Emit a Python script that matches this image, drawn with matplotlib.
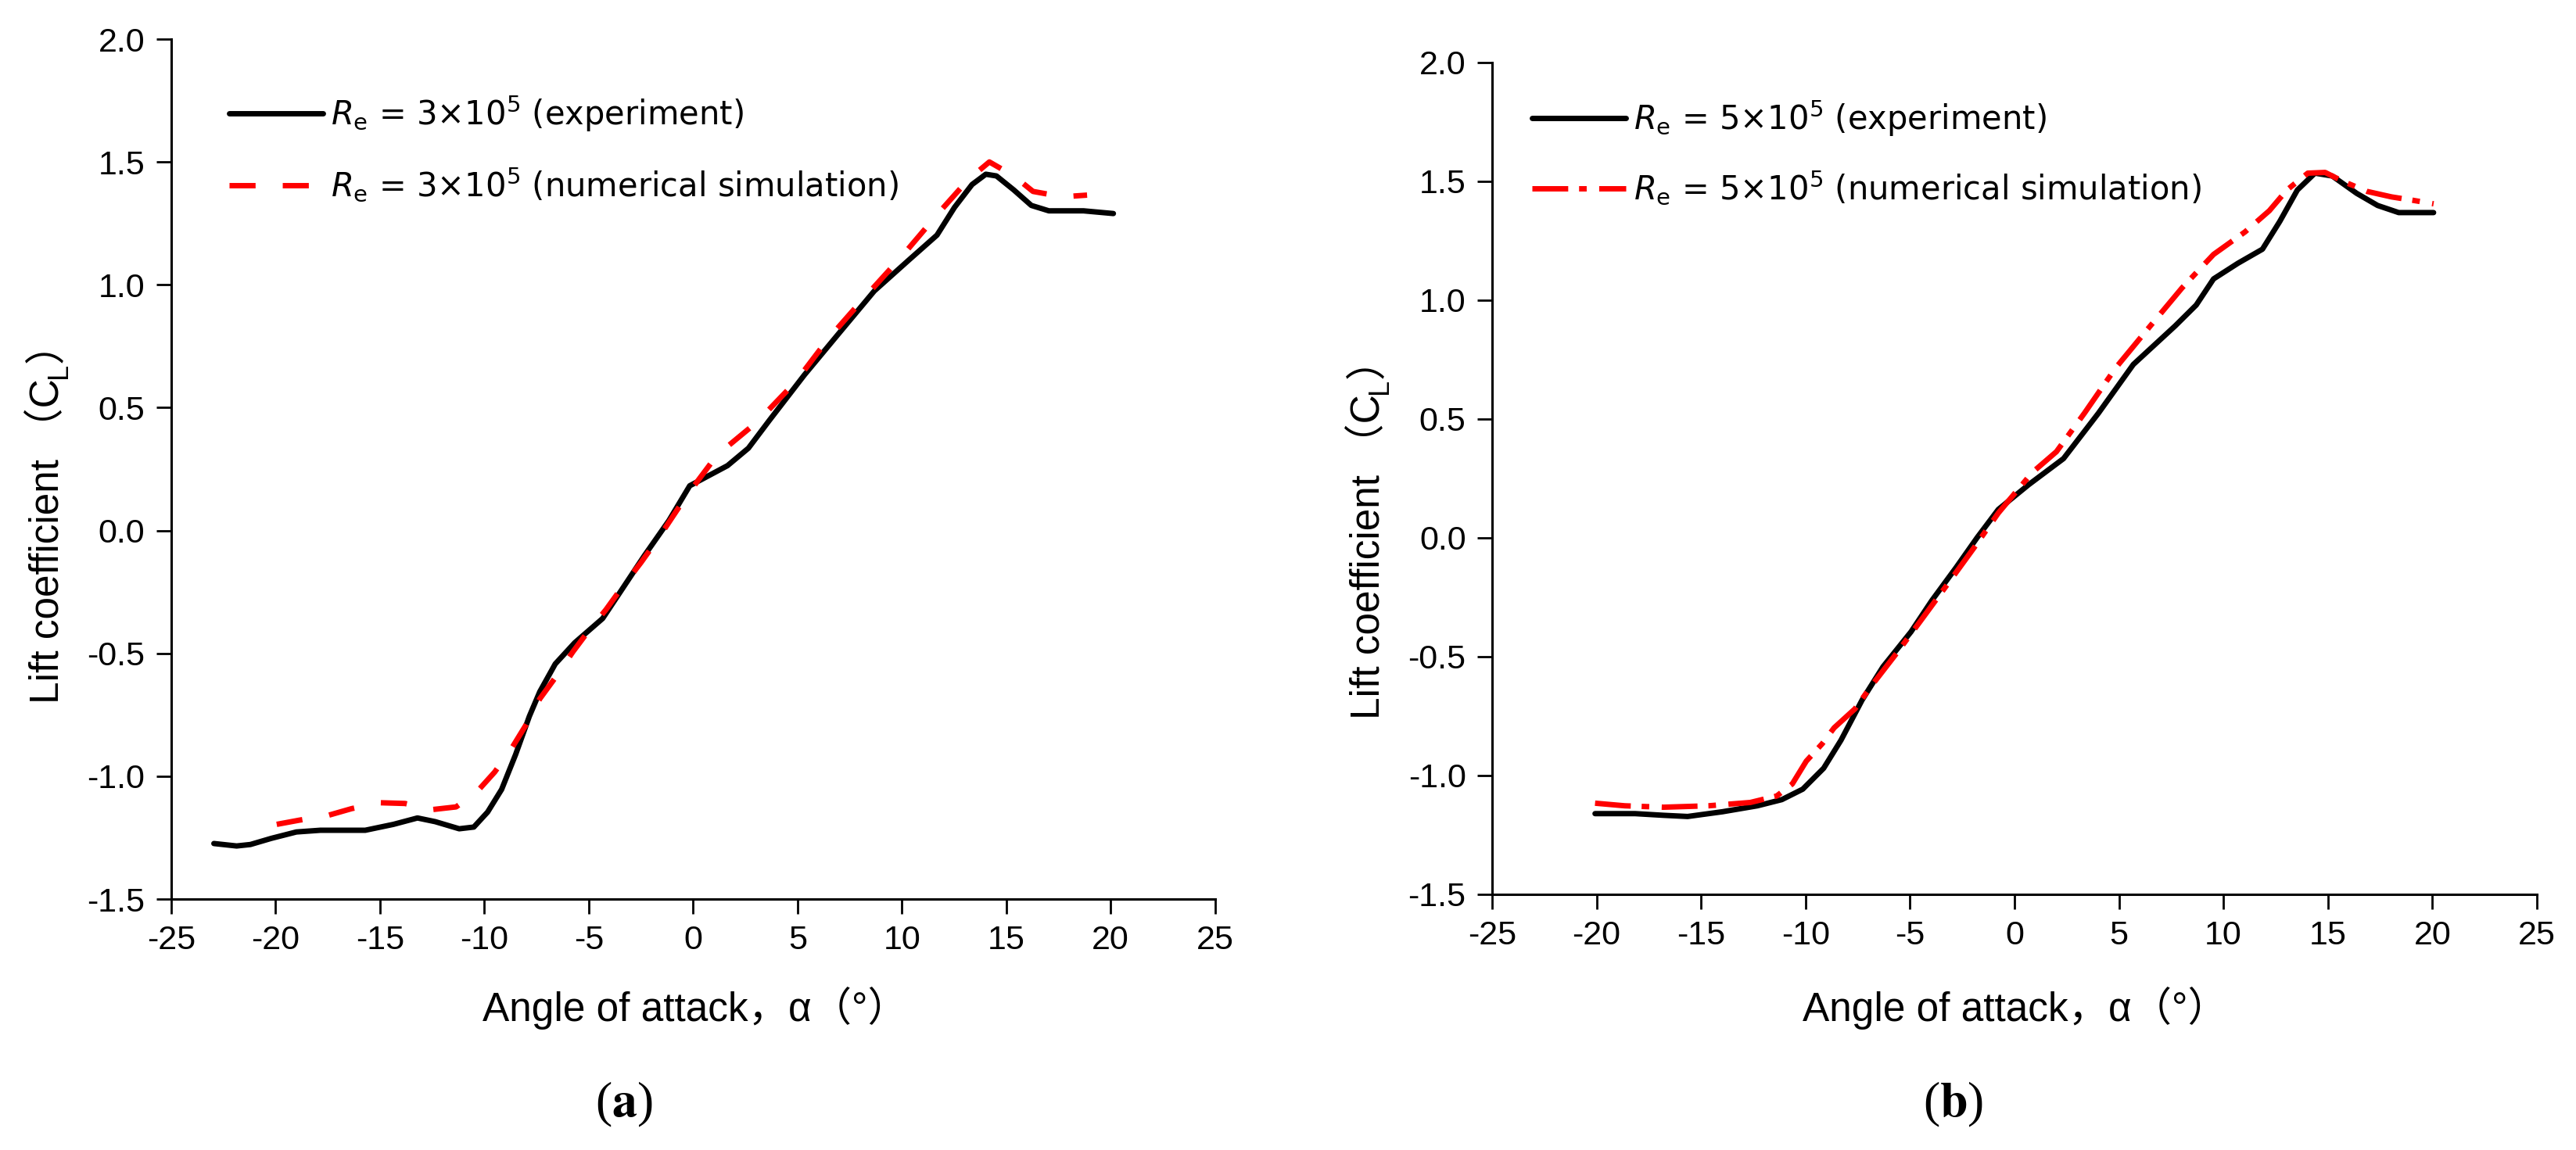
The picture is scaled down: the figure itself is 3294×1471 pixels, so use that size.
import matplotlib
matplotlib.use("Agg")
from matplotlib import pyplot as plt

# ---- data ----
aoa_exp_a = [-22.95, -21.86, -21.2, -20.2, -19.0, -17.85, -15.7, -14.35, -13.2, -12.35,
             -11.2, -10.5, -9.84, -9.17, -8.5, -7.84, -7.34, -6.6, -5.67, -4.33,
             -3.33, -2.33, -1.16, -0.16, 1.65, 2.65, 3.66, 5.33, 7.0, 8.68,
             10.35, 11.68, 12.52, 13.36, 14.02, 14.53, 15.36, 16.2, 17.04, 18.7, 20.13]
cl_exp_a = [-1.274, -1.284, -1.278, -1.253, -1.227, -1.220, -1.220, -1.196, -1.170, -1.185,
            -1.214, -1.207, -1.146, -1.054, -0.912, -0.756, -0.656, -0.543, -0.457, -0.358,
            -0.230, -0.102, 0.040, 0.182, 0.264, 0.335, 0.449, 0.633, 0.804, 0.975,
            1.102, 1.202, 1.315, 1.408, 1.450, 1.443, 1.386, 1.323, 1.301, 1.301, 1.290]

aoa_sim_a = [-19.94, -18.86, -17.5, -16.35, -15.0, -13.8, -12.5, -11.35, -10.4, -9.5,
             -8.67, -8.0, -7.34, -6.6, -5.75, -5.0, -4.17, -3.33, -2.5, -1.66,
             -0.33, 1.15, 3.07, 4.91, 6.5, 8.26, 10.0, 11.85, 13.19, 14.19,
             15.36, 16.28, 17.7, 18.87]
cl_sim_a = [-1.196, -1.179, -1.160, -1.132, -1.108, -1.111, -1.136, -1.125, -1.068, -0.983,
            -0.884, -0.791, -0.685, -0.599, -0.493, -0.408, -0.322, -0.223, -0.131, -0.031,
            0.139, 0.307, 0.442, 0.605, 0.783, 0.953, 1.116, 1.301, 1.429, 1.500,
            1.443, 1.380, 1.358, 1.365]

aoa_exp_b = [-20.07, -18.15, -16.8, -15.64, -13.97, -12.3, -11.13, -10.13, -9.13, -8.3,
             -7.29, -6.29, -4.95, -3.95, -2.78, -1.78, -0.77, 0.68, 2.35, 4.02,
             5.69, 7.69, 8.7, 9.53, 10.7, 11.87, 12.7, 13.54, 14.38, 15.21,
             16.38, 17.38, 18.39, 20.06]
cl_exp_b = [-1.162, -1.162, -1.169, -1.174, -1.154, -1.129, -1.103, -1.059, -0.971, -0.853,
            -0.684, -0.544, -0.397, -0.265, -0.125, 0.0, 0.118, 0.222, 0.332, 0.523,
            0.728, 0.890, 0.978, 1.088, 1.154, 1.213, 1.330, 1.462, 1.533, 1.521,
            1.448, 1.397, 1.367, 1.367]

aoa_sim_b = [-20.07, -18.65, -16.8, -14.64, -12.64, -11.38, -10.63, -9.96, -9.2, -8.63,
             -7.63, -6.79, -5.62, -4.45, -3.28, -1.94, -0.77, 0.85, 2.01, 3.35,
             4.85, 6.36, 8.03, 9.53, 11.04, 12.2, 13.04, 14.04, 14.87, 15.71,
             16.88, 18.05, 19.05, 20.06]
cl_sim_b = [-1.118, -1.129, -1.135, -1.129, -1.115, -1.088, -1.037, -0.941, -0.868, -0.801,
            -0.721, -0.618, -0.485, -0.346, -0.206, -0.044, 0.103, 0.273, 0.361, 0.523,
            0.714, 0.875, 1.051, 1.191, 1.286, 1.375, 1.462, 1.533, 1.536, 1.499,
            1.456, 1.433, 1.419, 1.404]

x_ticks = [-25, -20, -15, -10, -5, 0, 5, 10, 15, 20, 25]
y_ticks = [-1.5, -1.0, -0.5, 0.0, 0.5, 1.0, 1.5, 2.0]

labels_a = [r"$R_\mathrm{e}$ = 3×10$^5$ (experiment)",
            r"$R_\mathrm{e}$ = 3×10$^5$ (numerical simulation)"]
labels_b = [r"$R_\mathrm{e}$ = 5×10$^5$ (experiment)",
            r"$R_\mathrm{e}$ = 5×10$^5$ (numerical simulation)"]

W, H = 3294, 1471
FAM = ["Liberation Sans", "Noto Sans CJK SC"]
plt.rcParams["axes.unicode_minus"] = False

fig = plt.figure(figsize=(W / 100, H / 100), dpi=100)


def px(x, y):
    return x / W, 1 - y / H


def style_axes(ax):
    ax.set_xlim(-25, 25)
    ax.set_ylim(-1.5, 2.0)
    ax.set_xticks(x_ticks)
    ax.set_xticklabels([str(t) for t in x_ticks])
    ax.set_yticks(y_ticks)
    ax.set_yticklabels(["%.1f" % t for t in y_ticks])
    for s in ("top", "right"):
        ax.spines[s].set_visible(False)
    for s in ("left", "bottom"):
        ax.spines[s].set_linewidth(2.2)
    ax.tick_params(direction="out", length=14, width=2, pad=10, labelsize=31)
    for lab in ax.get_xticklabels() + ax.get_yticklabels():
        lab.set_family(FAM)


def y_label(ax, x0, y0):
    t1 = fig.text(*px(x0, y0), "Lift coefficient （C", rotation=90,
                  rotation_mode="anchor", ha="left", va="baseline",
                  fontsize=37, family=FAM)
    t2 = ax.annotate("L", xy=(x0 / W, 1.0), xycoords=("figure fraction", t1),
                     xytext=(7, 0), textcoords="offset points", rotation=90,
                     rotation_mode="anchor", ha="left", va="baseline",
                     fontsize=26, family=FAM, annotation_clip=False)
    ax.annotate("）", xy=(x0 / W, 1.0), xycoords=("figure fraction", t2),
                rotation=90, rotation_mode="anchor", ha="left", va="baseline",
                fontsize=37, family=FAM, annotation_clip=False)


# (a)
ax1 = fig.add_axes([218.75 / W, 1 - 1150 / H, 1335 / W, 1100 / H])
ax1.plot(aoa_exp_a, cl_exp_a, color="black", lw=5, solid_joinstyle="round",
         solid_capstyle="round", label=labels_a[0])
ax1.plot(aoa_sim_a, cl_sim_a, color="#ff0000", lw=5, dashes=(4.8, 5.0),
         dash_capstyle="butt", label=labels_a[1])
style_axes(ax1)
ax1.legend(loc="center left", bbox_to_anchor=((293 - 218.75) / 1335, (1150 - 190) / 1100),
           frameon=False, borderpad=0, borderaxespad=0, handlelength=2.88,
           handletextpad=0.25, labelspacing=1.0, prop={"family": "DejaVu Sans", "size": 30})
y_label(ax1, 75, 900)
fig.text(*px(617, 1306), "Angle of attack，α（°）", ha="left", va="baseline",
         fontsize=37, family=FAM)
fig.text(*px(798, 1413), r"($\mathbf{a}$)", ha="center", va="center", fontsize=46,
         family="Liberation Serif", math_fontfamily="stix")

# (b)
ax2 = fig.add_axes([1907.9 / W, 1 - 1143.5 / H, 1336 / W, 1064 / H])
ax2.plot(aoa_exp_b, cl_exp_b, color="black", lw=5, solid_joinstyle="round",
         solid_capstyle="round", label=labels_b[0])
ax2.plot(aoa_sim_b, cl_sim_b, color="#ff0000", lw=5, dashes=(6.6, 2.0, 1.4, 2.3),
         dash_capstyle="butt", label=labels_b[1])
style_axes(ax2)
ax2.legend(loc="center left", bbox_to_anchor=((1959 - 1907.9) / 1336, (1143.5 - 195) / 1064),
           frameon=False, borderpad=0, borderaxespad=0, handlelength=2.88,
           handletextpad=0.25, labelspacing=0.95, prop={"family": "DejaVu Sans", "size": 30})
y_label(ax2, 1764, 920)
fig.text(*px(2305, 1306), "Angle of attack，α（°）", ha="left", va="baseline",
         fontsize=37, family=FAM)
fig.text(*px(2498, 1413), r"($\mathbf{b}$)", ha="center", va="center", fontsize=46,
         family="Liberation Serif", math_fontfamily="stix")

fig.savefig("out.png", dpi=100)
